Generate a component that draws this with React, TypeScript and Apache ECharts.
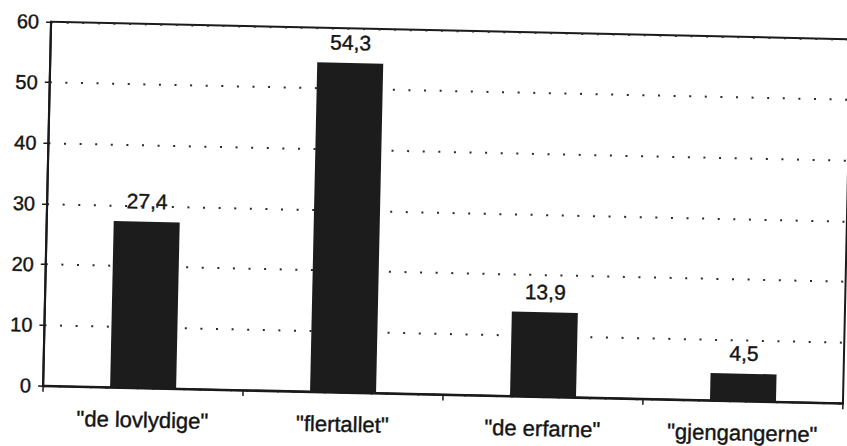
import React, { useEffect, useRef } from "react";
import * as echarts from "echarts";

const categories = ['"de lovlydige"', '"flertallet"', '"de erfarne"', '"gjengangerne"'];
const values = [27.4, 54.3, 13.9, 4.5];
const yMin = 0;
const yMax = 60;
const yInterval = 10;

export default function App() {
  const ref = useRef<HTMLDivElement>(null);
  useEffect(() => {
    if (!ref.current) return;
    const chart = echarts.init(ref.current, undefined, { renderer: "svg" });
    const font = "'Liberation Sans', Arial, sans-serif";
    const textColor = "#141414";
    chart.setOption({
      animation: false,
      backgroundColor: "#ffffff",
      grid: {
        left: 47,
        top: 30.5,
        width: 800,
        height: 364,
        show: true,
        borderColor: "#1a1a1a",
        borderWidth: 2,
        backgroundColor: "transparent",
      },
      xAxis: {
        type: "category",
        data: categories,
        boundaryGap: true,
        axisLine: { show: true, lineStyle: { color: "#1a1a1a", width: 2.2 } },
        axisTick: { show: true, alignWithLabel: false, length: 6, lineStyle: { color: "#1a1a1a", width: 1.5 } },
        axisLabel: {
          color: textColor,
          fontFamily: font,
          fontSize: 22,
          margin: 21,
          interval: 0,
          textBorderColor: textColor,
          textBorderWidth: 0.4,
        },
        splitLine: { show: false },
      },
      yAxis: {
        type: "value",
        min: yMin,
        max: yMax,
        interval: yInterval,
        axisLine: { show: true, lineStyle: { color: "#1a1a1a", width: 2.2 } },
        axisTick: { show: true, length: 5, lineStyle: { color: "#1a1a1a", width: 1.5 } },
        axisLabel: {
          color: textColor,
          fontFamily: font,
          fontSize: 20,
          margin: 12,
          textBorderColor: textColor,
          textBorderWidth: 0.4,
        },
        splitLine: {
          show: true,
          lineStyle: { color: "#2a2a2a", width: 2, type: [2, 13.6] },
        },
      },
      series: [
        {
          type: "bar",
          data: values,
          barWidth: "33%",
          itemStyle: { color: "#1c1c1c" },
          label: {
            show: true,
            position: "top",
            distance: 10,
            color: textColor,
            fontFamily: font,
            fontSize: 21,
            textBorderColor: textColor,
            textBorderWidth: 0.4,
            formatter: (p: any) => String(p.value).replace(".", ","),
          },
        },
      ],
    });
    return () => chart.dispose();
  }, []);
  return (
    <div
      style={{
        position: "fixed",
        left: 0,
        top: 0,
        width: 847,
        height: 446,
        overflow: "hidden",
        background: "#fff",
      }}
    >
      <div
        ref={ref}
        style={{
          position: "absolute",
          left: 0,
          top: 0,
          width: 880,
          height: 446,
          transform: "rotate(1.25deg)",
          transformOrigin: "447px 212.5px",
        }}
      />
    </div>
  );
}
